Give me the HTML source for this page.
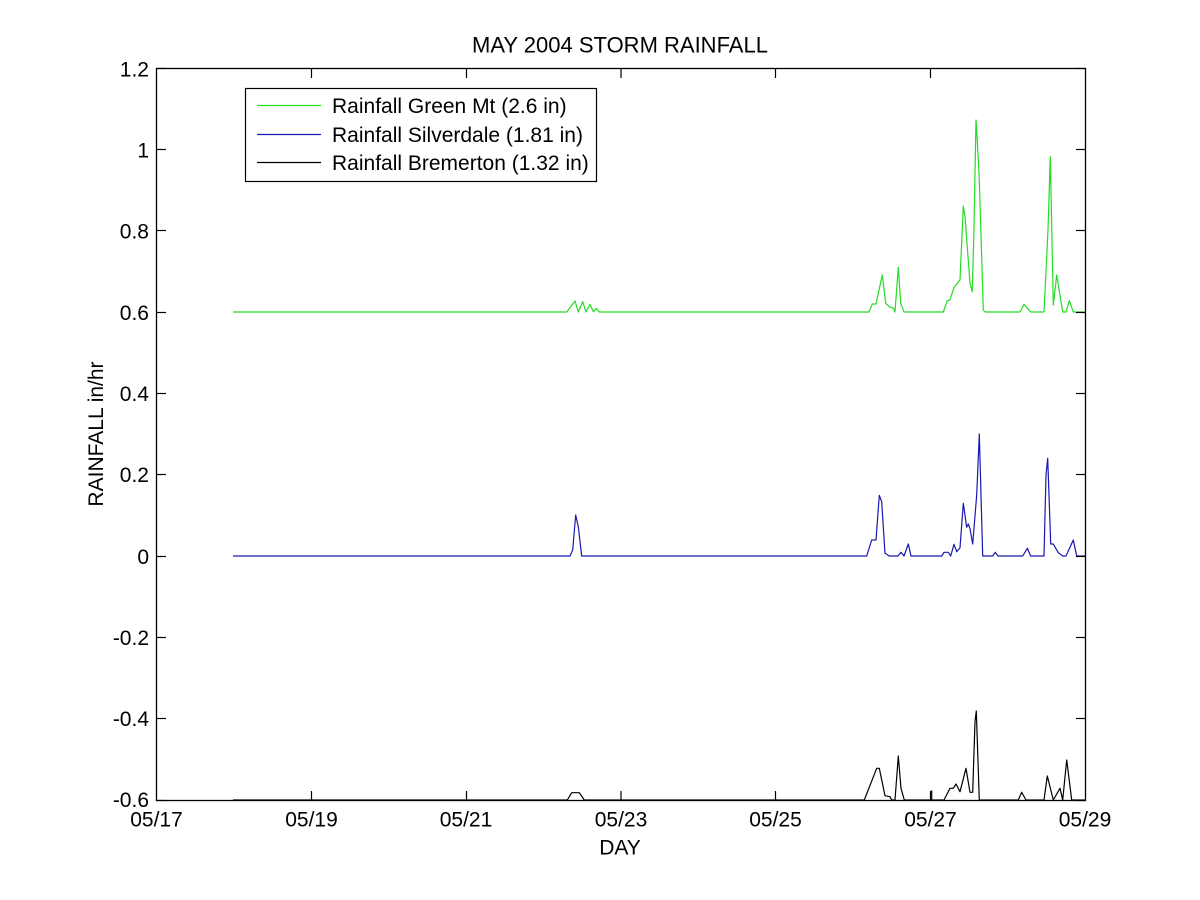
<!DOCTYPE html>
<html>
<head>
<meta charset="utf-8">
<style>
  html, body { margin: 0; padding: 0; background: #ffffff; }
  svg { display: block; }
  text { font-family: "Liberation Sans", Arial, sans-serif; fill: #000; }
</style>
</head>
<body>
<svg width="1200" height="900" viewBox="0 0 1200 900" xmlns="http://www.w3.org/2000/svg">
  <rect x="0" y="0" width="1200" height="900" fill="#ffffff"/>

  <!-- Series -->
  <polyline fill="none" stroke="#22dd22" stroke-width="1.2" stroke-linejoin="round"
    points="233,312 566.7,312 575,301 578.3,312 582.7,301.7 586,312 590,304.3 593.3,311.7 596.7,308.3 599.3,312 869,312 872.3,304 876,304 882.3,275 885.7,303.3 890,307.3 893.3,308 895,312 898.3,267.3 900.7,303.3 904,312 943.3,312 947.3,300.7 950,300 954,287.3 960,280 963.3,206 965,216.7 970,283.3 972.3,291.7 974,226.7 976,120 977,135 979.3,180 983.3,310 985.3,312 1020,312 1024,304.3 1030.7,312 1044,312 1048,230 1050.3,156.7 1053.3,305 1056.7,275 1062.7,312 1066,312 1069.3,300.7 1073.3,312 1085,312"/>
  <polyline fill="none" stroke="#1818b0" stroke-width="1.2" stroke-linejoin="round"
    points="233,556 570,556 572.7,550 575.7,515 578.3,526.7 581.7,556 866.7,556 871.7,540 876,540 879.3,495.3 881.7,501.7 885,553.3 889.3,556 898,556 901,552.3 904,556 908.3,544 911,556 941.7,556 944,552.3 948.3,552.3 950.7,556 954,544.3 956.7,551.7 960,547.7 963.3,503.3 966.7,527.3 968.3,524 970,528.7 972.7,544 976.7,495 979.3,434 982.7,556 992.7,556 995.3,552.3 998,556 1022.7,556 1027.3,548.3 1030.7,556 1044,556 1046,475 1047.7,458.3 1050.7,544 1053.3,544 1058.3,552.7 1062.7,556 1066,556 1073.3,540 1076.7,556 1085,556"/>
  <polyline fill="none" stroke="#000000" stroke-width="1.2" stroke-linejoin="round"
    points="233,800 567.3,800 571.7,792.7 579.3,792.7 584.3,800 864.3,800 876.7,768.3 879.3,768.3 885,795.7 890,796.7 891.7,800 895,800 898.3,756 901,788.3 904.3,800 931.7,800 931.7,790.7 931.7,800 944,800 950,788.3 953.3,788.3 956,784 960,791.7 966,768.3 970,792.3 972.7,792.3 975,721.7 976.3,711 979.3,800 1018.3,800 1021.7,792.3 1026,800 1044,800 1047.3,776 1053.3,800 1060,788.3 1062.7,800 1066.7,760 1071.7,800 1085,800"/>

  <!-- Axes box -->
  <rect x="156.5" y="68.5" width="929" height="732" fill="none" stroke="#000" stroke-width="1.3"/>

  <!-- Y ticks -->
  <g stroke="#000" stroke-width="1.2">
    <line x1="156.5" y1="68.5" x2="166" y2="68.5"/><line x1="1085.5" y1="68.5" x2="1076" y2="68.5"/>
    <line x1="156.5" y1="149.5" x2="166" y2="149.5"/><line x1="1085.5" y1="149.5" x2="1076" y2="149.5"/>
    <line x1="156.5" y1="230.5" x2="166" y2="230.5"/><line x1="1085.5" y1="230.5" x2="1076" y2="230.5"/>
    <line x1="156.5" y1="312.5" x2="166" y2="312.5"/><line x1="1085.5" y1="312.5" x2="1076" y2="312.5"/>
    <line x1="156.5" y1="393.5" x2="166" y2="393.5"/><line x1="1085.5" y1="393.5" x2="1076" y2="393.5"/>
    <line x1="156.5" y1="474.5" x2="166" y2="474.5"/><line x1="1085.5" y1="474.5" x2="1076" y2="474.5"/>
    <line x1="156.5" y1="556.5" x2="166" y2="556.5"/><line x1="1085.5" y1="556.5" x2="1076" y2="556.5"/>
    <line x1="156.5" y1="637.5" x2="166" y2="637.5"/><line x1="1085.5" y1="637.5" x2="1076" y2="637.5"/>
    <line x1="156.5" y1="718.5" x2="166" y2="718.5"/><line x1="1085.5" y1="718.5" x2="1076" y2="718.5"/>
    <line x1="156.5" y1="800.5" x2="166" y2="800.5"/><line x1="1085.5" y1="800.5" x2="1076" y2="800.5"/>
  </g>
  <!-- X ticks -->
  <g stroke="#000" stroke-width="1.2">
    <line x1="311.5" y1="800.5" x2="311.5" y2="791"/><line x1="311.5" y1="68.5" x2="311.5" y2="78"/>
    <line x1="466.5" y1="800.5" x2="466.5" y2="791"/><line x1="466.5" y1="68.5" x2="466.5" y2="78"/>
    <line x1="621" y1="800.5" x2="621" y2="791"/><line x1="621" y1="68.5" x2="621" y2="78"/>
    <line x1="775.5" y1="800.5" x2="775.5" y2="791"/><line x1="775.5" y1="68.5" x2="775.5" y2="78"/>
    <line x1="930.5" y1="800.5" x2="930.5" y2="791"/><line x1="930.5" y1="68.5" x2="930.5" y2="78"/>
  </g>

  <!-- Y tick labels -->
  <g font-size="21" text-anchor="end">
    <text x="149" y="76.5">1.2</text>
    <text x="149" y="157.5">1</text>
    <text x="149" y="238.5">0.8</text>
    <text x="149" y="320">0.6</text>
    <text x="149" y="401">0.4</text>
    <text x="149" y="482">0.2</text>
    <text x="149" y="564">0</text>
    <text x="149" y="645">-0.2</text>
    <text x="149" y="726">-0.4</text>
    <text x="149" y="807">-0.6</text>
  </g>
  <!-- X tick labels -->
  <g font-size="21" text-anchor="middle">
    <text x="156.5" y="826.5">05/17</text>
    <text x="311.5" y="826.5">05/19</text>
    <text x="466" y="826.5">05/21</text>
    <text x="621" y="826.5">05/23</text>
    <text x="775.5" y="826.5">05/25</text>
    <text x="930.5" y="826.5">05/27</text>
    <text x="1085" y="826.5">05/29</text>
  </g>

  <!-- Title & axis labels -->
  <text x="620" y="52.5" font-size="22" text-anchor="middle">MAY 2004 STORM RAINFALL</text>
  <text x="620" y="854.5" font-size="21" text-anchor="middle">DAY</text>
  <text x="0" y="0" font-size="21" text-anchor="middle" transform="translate(103,434) rotate(-90)">RAINFALL in/hr</text>

  <!-- Legend -->
  <rect x="245.5" y="88.5" width="351" height="93" fill="#ffffff" stroke="#000" stroke-width="1.2"/>
  <line x1="257" y1="105.5" x2="321" y2="105.5" stroke="#22dd22" stroke-width="1.2"/>
  <line x1="257" y1="134.5" x2="321" y2="134.5" stroke="#1818b0" stroke-width="1.2"/>
  <line x1="257" y1="162.5" x2="321" y2="162.5" stroke="#000" stroke-width="1.2"/>
  <g font-size="21">
    <text x="332" y="113">Rainfall Green Mt (2.6 in)</text>
    <text x="332" y="142">Rainfall Silverdale (1.81 in)</text>
    <text x="332" y="170">Rainfall Bremerton (1.32 in)</text>
  </g>
</svg>
</body>
</html>
